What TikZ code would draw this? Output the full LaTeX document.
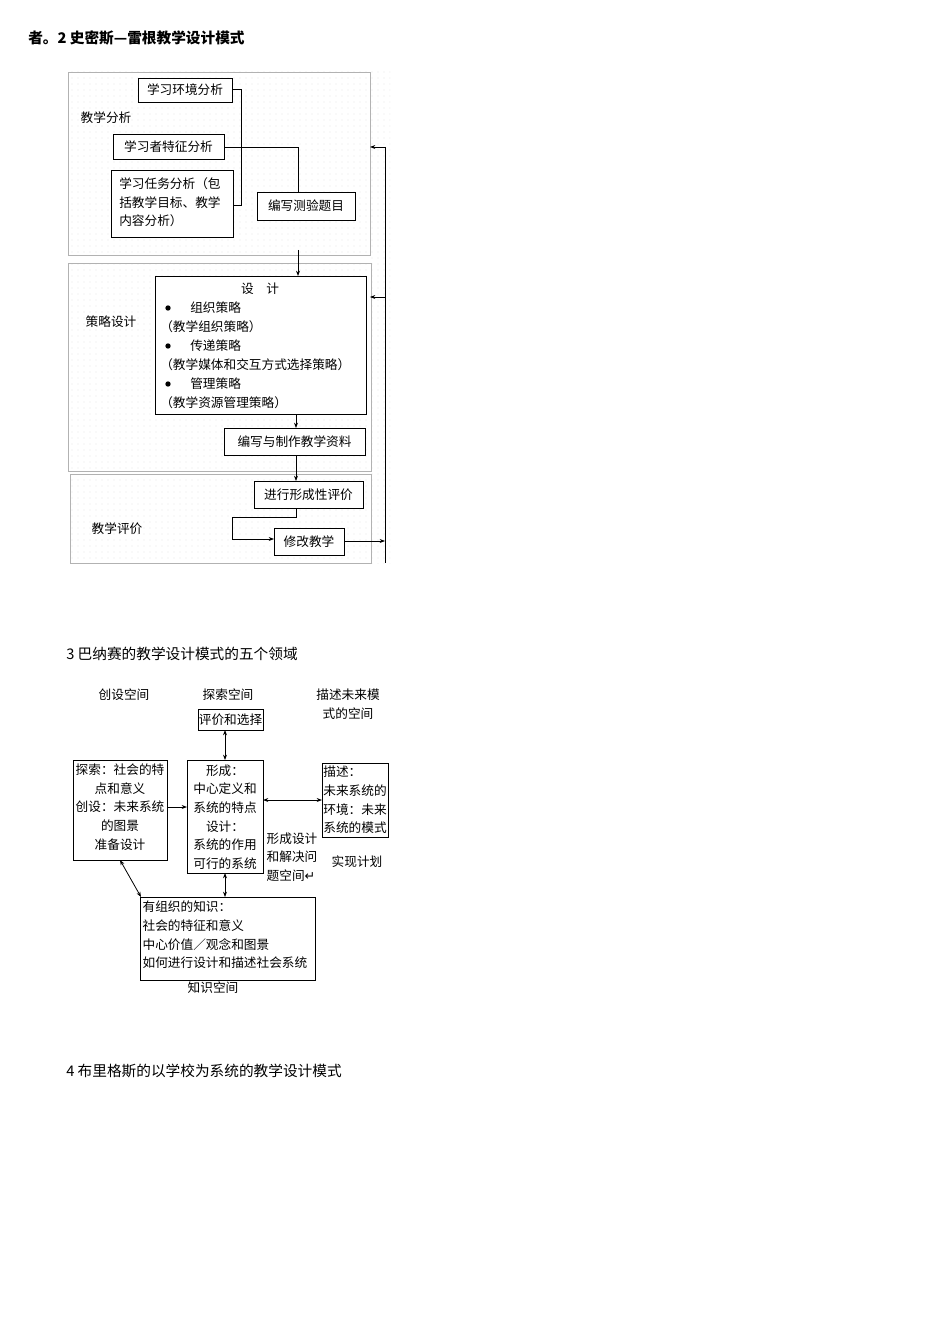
\documentclass[tikz,border=0pt]{standalone}
\usepackage{fontspec}
\setmainfont{Noto Sans CJK SC}
\newfontfamily\djv{DejaVu Sans}
\usetikzlibrary{patterns.meta,arrows.meta}
\begin{document}
\begin{tikzpicture}[x=0.75pt,y=-0.75pt,
  bx/.style={draw,line width=0.65pt,inner sep=0pt},
  lbl/.style={font=\fontsize{9.5}{11}\selectfont,inner sep=1pt},
  ml/.style={font=\fontsize{9.5}{14}\selectfont,inner sep=1pt},
  txt/.style={font=\fontsize{9.5}{11}\selectfont,inner sep=0pt,anchor=west},
  ar/.style={-{Stealth[length=4pt,width=3pt]},line width=0.6pt},
  dar/.style={{Stealth[length=4pt,width=3pt]}-{Stealth[length=4pt,width=3pt]},line width=0.6pt},
  ln/.style={line width=0.6pt},
  sec/.style={draw=gray!60,pattern={Dots[distance=4.5pt,radius=0.35pt]},pattern color=gray!60}]
\useasboundingbox (0,0) rectangle (950,1344);
\node[anchor=west,font=\fontsize{11}{13}\selectfont\bfseries,inner sep=0pt] (t1) at (28,38) {者。2 史密斯—雷根教学设计模式};
% diagram 1 backgrounds
\path[pattern={Dots[distance=4.5pt,radius=0.35pt]},pattern color=gray!60] (370,72) rectangle (390,563);
\path[sec] (68,72) rectangle (370,255);
\path[sec] (68,263) rectangle (371,471);
\path[sec] (70,474) rectangle (371,563);
% boxes
\draw[bx,fill=white] (138,78) rectangle node[lbl] (env) {学习环境分析} (232,102);
\draw[bx,fill=white] (113,134) rectangle node[lbl] (lrn) {学习者特征分析} (224,159);
\draw[bx,fill=white] (111,170) rectangle (233,237);
\node[txt] (task) at (119,184) {学习任务分析（包};
\node[txt] at (119,203) {括教学目标、教学};
\node[txt] at (119,221) {内容分析）};
\draw[bx,fill=white] (257,192) rectangle node[lbl] (test) {编写测验题目} (355,220);
\node[lbl] (s1) at (106,118) {教学分析};
\node[lbl] (s2) at (111,322) {策略设计};
\node[lbl] (s3) at (117,529) {教学评价};
\draw[bx,fill=white] (155,276) rectangle (366,414);
\node[lbl] (des) at (260,289) {设　计};
\foreach \y/\a/\b in {308/组织策略/（教学组织策略）,346/传递策略/（教学媒体和交互方式选择策略）,384/管理策略/（教学资源管理策略）}{
  \fill (168,\y) circle (2pt);
  \node[txt] at (190,\y) {\a};
  \node[txt] at (160,\y+19) {\b};
}
\draw[bx,fill=white] (224,428) rectangle node[lbl] (mat) {编写与制作教学资料} (365,455);
\draw[bx,fill=white] (254,481) rectangle node[lbl] (form) {进行形成性评价} (363,508);
\draw[bx,fill=white] (274,528) rectangle node[lbl] (rev) {修改教学} (344,555);
% connectors
\draw[ln] (232,89) -- (241,89) -- (241,205) -- (233,205);
\draw[ln] (224,147) -- (298,147) -- (298,192);
\draw[ar] (298,250) -- (298,276);
\draw[ar] (296,414) -- (296,428);
\draw[ar] (296,455) -- (296,481);
\draw[ln] (296,508) -- (296,517) -- (232,517) -- (232,539);
\draw[ar] (232,539) -- (274,539);
\draw[ar] (344,541) -- (385,541);
\draw[ln] (385,147) -- (385,563);
\draw[ar] (385,147) -- (370,147);
\draw[ar] (385,297) -- (370,297);
% diagram 2
\node[anchor=west,font=\fontsize{11}{13}\selectfont,inner sep=0pt] (t2) at (66,654) {3 巴纳赛的教学设计模式的五个领域};
\node[lbl] at (124,695) {创设空间};
\node[lbl] at (228,695) {探索空间};
\node[ml,align=center] at (348,704) {描述未来模\\式的空间};
\draw[bx] (198,709) rectangle node[lbl] (eval) {评价和选择} (263,730);
\draw[bx] (73,760) rectangle (167,860);
\node[ml,align=center] (left) at (120,807) {探索：社会的特\\点和意义\\创设：未来系统\\的图景\\准备设计};
\draw[bx] (187,760) rectangle (263,873);
\node[ml,align=center] (cen) at (225,817) {形成：\\中心定义和\\系统的特点\\设计：\\系统的作用\\可行的系统};
\draw[bx] (322,763) rectangle (388,837);
\node[ml,align=left] (right) at (355,800) {描述：\\未来系统的\\环境：未来\\系统的模式};
\node[ml,align=left] at (292,857) {形成设计\\和解决问\\题空间{\djv ↵}};
\node[lbl] at (357,862) {实现计划};
\draw[bx] (140,897) rectangle (315,980);
\node[ml,align=left,anchor=west] (kn) at (141,935) {有组织的知识：\\社会的特征和意义\\中心价值／观念和图景\\如何进行设计和描述社会系统};
\node[lbl] at (213,988) {知识空间};
\draw[dar] (225,730) -- (225,760);
\draw[ar] (167,807) -- (187,807);
\draw[dar] (263,800) -- (322,800);
\draw[dar] (225,873) -- (225,897);
\draw[dar] (120,860) -- (141,897);
\node[anchor=west,font=\fontsize{11}{13}\selectfont,inner sep=0pt] (t3) at (66,1071) {4 布里格斯的以学校为系统的教学设计模式};
\end{tikzpicture}
\end{document}
